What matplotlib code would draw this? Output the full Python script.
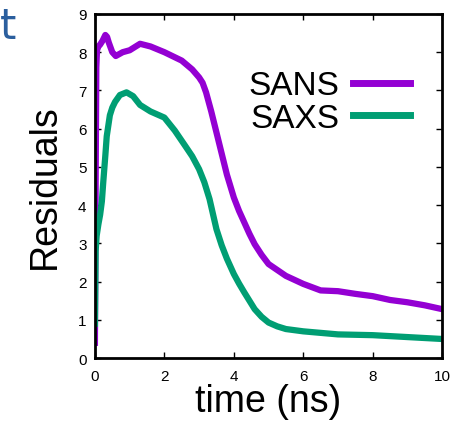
import numpy as np
import matplotlib.pyplot as plt

plt.rcParams['font.family'] = ['Liberation Sans', 'DejaVu Sans']

# values
t_sans = [0, 0.02, 0.04, 0.06, 0.1, 0.15, 0.22, 0.3, 0.35, 0.4, 0.5, 0.6, 0.7, 0.8, 1.0,
          1.3, 1.6, 2.0, 2.5, 2.8, 3.0, 3.1, 3.2, 3.35, 3.5, 3.65, 3.8, 4.0, 4.15, 4.3,
          4.45, 4.6, 4.8, 5.0, 5.5, 6.0, 6.5, 7.0, 7.5, 8.0, 8.5, 9.0, 9.5, 10.0]
sans = [0.4, 4.5, 7.6, 8.05, 8.15, 8.2, 8.3, 8.45, 8.4, 8.25, 8.0, 7.9, 7.95, 8.0, 8.05,
        8.22, 8.15, 8.0, 7.78, 7.55, 7.34, 7.2, 6.95, 6.45, 5.9, 5.35, 4.8, 4.2, 3.85, 3.55,
        3.25, 2.98, 2.7, 2.46, 2.15, 1.94, 1.77, 1.75, 1.68, 1.62, 1.52, 1.46, 1.38, 1.28]

t_saxs = [0, 0.02, 0.05, 0.1, 0.15, 0.2, 0.24, 0.3, 0.34, 0.43, 0.5, 0.58, 0.72, 0.91, 1.1,
          1.3, 1.6, 2.0, 2.3, 2.6, 2.8, 3.0, 3.15, 3.3, 3.5, 3.65, 3.8, 4.0, 4.15, 4.3, 4.45,
          4.6, 4.8, 5.0, 5.25, 5.5, 6.0, 6.5, 7.0, 8.0, 9.0, 10.0]
saxs = [0.9, 2.8, 3.2, 3.5, 3.75, 4.1, 4.6, 5.3, 5.8, 6.35, 6.55, 6.7, 6.88, 6.95, 6.85,
        6.62, 6.45, 6.29, 5.95, 5.55, 5.28, 4.94, 4.6, 4.16, 3.37, 2.95, 2.6, 2.2, 1.95, 1.72,
        1.5, 1.28, 1.08, 0.93, 0.83, 0.76, 0.7, 0.66, 0.62, 0.6, 0.55, 0.5]

xticks = [0, 2, 4, 6, 8, 10]
yticks = list(range(10))

fig = plt.figure(figsize=(4.77, 4.27), dpi=100)
ax = fig.add_axes([0.199, 0.159, 0.728, 0.806])

ax.plot(t_sans, sans, color='#9400d3', lw=4.5, label='SANS')
ax.plot(t_saxs, saxs, color='#009e73', lw=4.5, label='SAXS')

ax.set_xlim(0, 10)
ax.set_ylim(0, 9)
ax.set_xticks(xticks)
ax.set_yticks(yticks)
ax.tick_params(direction='in', top=True, right=True, length=4, width=1,
               labelsize=11)
ax.tick_params(axis='y', pad=6)
ax.tick_params(axis='x', pad=8)
for s in ax.spines.values():
    s.set_linewidth(2)

ax.set_xlabel('time (ns)', fontsize=27, labelpad=0)
ax.set_ylabel('Residuals', fontsize=27, labelpad=11)

leg = ax.legend(loc='upper right', bbox_to_anchor=(0.945, 0.875), frameon=False,
                fontsize=24, markerfirst=False, handlelength=1.7,
                handletextpad=0.4, labelspacing=0.05, borderaxespad=0)
for h in leg.get_lines():
    h.set_linewidth(5)

# cropped blue letter in the top-left corner of the source
fig.text(0.0, 0.985, 't', color='#2b5f9e', fontsize=30, va='top', ha='left',
         family='DejaVu Sans')

fig.savefig('out.png', dpi=100)
